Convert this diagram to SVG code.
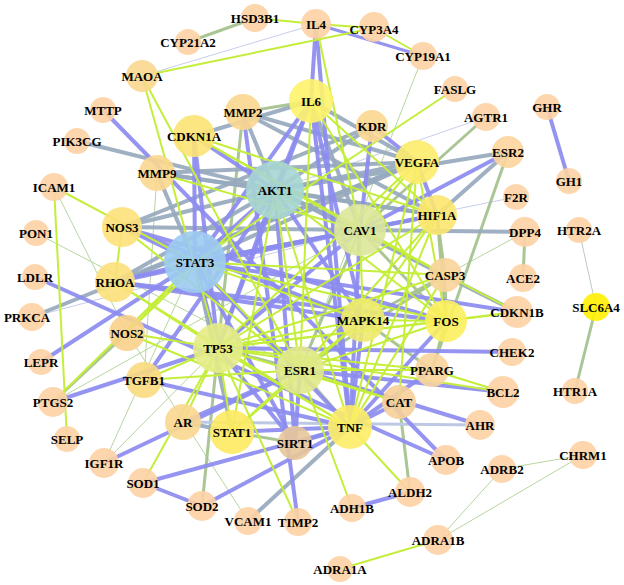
<svg xmlns="http://www.w3.org/2000/svg" width="624" height="585" viewBox="0 0 624 585">
<style>
.b line{stroke:#8C8CF0;stroke-width:4;stroke-opacity:0.92}
.g line{stroke:#97A9BE;stroke-width:4;stroke-opacity:0.92}
.gl line{stroke:#BCC8E4;stroke-width:3}
.s line{stroke:#A6C38F;stroke-width:3;stroke-opacity:0.95}
.l line{stroke:#C4EE3A;stroke-width:2}
.t line{stroke:#C6CFEA;stroke-width:1}
.tg line{stroke:#B6D69E;stroke-width:1}
circle{fill-opacity:0.9}
.p{fill:#FDD1A4}
.o{fill:#FBD78F}
text{font-family:"Liberation Serif","Times New Roman",serif;font-weight:bold;font-size:13px;text-anchor:middle;fill:#000}
</style>
<rect width="624" height="585" fill="#fff"/>
<g id="edges">
<g class="t">
<line x1="142" y1="76" x2="316" y2="24"/>
<line x1="516" y1="197" x2="195" y2="262"/>
<line x1="486" y1="117" x2="275" y2="190"/>
<line x1="32" y1="317" x2="360" y2="230"/>
</g>
<g class="tg">
<line x1="423" y1="56" x2="300" y2="370"/>
<line x1="54" y1="187" x2="127" y2="333"/>
<line x1="36" y1="233" x2="300" y2="370"/>
<line x1="104" y1="463" x2="195" y2="262"/>
<line x1="104" y1="463" x2="218" y2="348"/>
<line x1="248" y1="521" x2="127" y2="333"/>
<line x1="525" y1="232" x2="363" y2="320"/>
<line x1="53" y1="402" x2="360" y2="230"/>
<line x1="157" y1="173" x2="144" y2="380"/>
<line x1="502" y1="469" x2="583" y2="455"/>
<line x1="583" y1="455" x2="438" y2="540"/>
<line x1="502" y1="469" x2="438" y2="540"/>
<line x1="579" y1="230" x2="596" y2="307" style="stroke:#BACAC6"/>
</g>
<g class="s">
<line x1="255" y1="18" x2="188" y2="42"/>
<line x1="53" y1="402" x2="127" y2="333"/>
<line x1="202" y1="506" x2="218" y2="348"/>
<line x1="410" y1="492" x2="399" y2="402"/>
<line x1="523" y1="278" x2="525" y2="232"/>
<line x1="508" y1="152" x2="432" y2="370"/>
<line x1="486" y1="117" x2="360" y2="230"/>
<line x1="243" y1="112" x2="218" y2="348"/>
<line x1="243" y1="112" x2="311" y2="101"/>
<line x1="596" y1="307" x2="575" y2="391"/>
<line x1="275" y1="190" x2="445" y2="275"/>
<line x1="218" y1="348" x2="300" y2="370"/>
<line x1="360" y1="230" x2="300" y2="370"/>
<line x1="360" y1="230" x2="446" y2="321"/>
<line x1="363" y1="320" x2="445" y2="275"/>
<line x1="363" y1="320" x2="432" y2="370"/>
<line x1="300" y1="370" x2="350" y2="427"/>
<line x1="300" y1="370" x2="445" y2="275"/>
<line x1="446" y1="321" x2="437" y2="215"/>
<line x1="446" y1="321" x2="445" y2="275"/>
<line x1="446" y1="321" x2="432" y2="370"/>
<line x1="437" y1="215" x2="445" y2="275"/>
<line x1="232" y1="432" x2="295" y2="443"/>
</g>
<g class="g">
<line x1="77" y1="141" x2="275" y2="190"/>
<line x1="32" y1="317" x2="417" y2="162"/>
<line x1="248" y1="521" x2="350" y2="427"/>
<line x1="517" y1="312" x2="275" y2="190"/>
<line x1="525" y1="232" x2="360" y2="230"/>
<line x1="508" y1="152" x2="275" y2="190"/>
<line x1="508" y1="152" x2="437" y2="215"/>
<line x1="372" y1="126" x2="122" y2="227"/>
<line x1="311" y1="101" x2="417" y2="162"/>
<line x1="243" y1="112" x2="417" y2="162"/>
<line x1="243" y1="112" x2="437" y2="215"/>
<line x1="195" y1="262" x2="417" y2="162"/>
<line x1="195" y1="262" x2="232" y2="432"/>
<line x1="195" y1="262" x2="157" y2="173"/>
<line x1="275" y1="190" x2="360" y2="230"/>
<line x1="275" y1="190" x2="417" y2="162"/>
<line x1="275" y1="190" x2="437" y2="215"/>
<line x1="275" y1="190" x2="122" y2="227"/>
<line x1="275" y1="190" x2="115" y2="282"/>
<line x1="275" y1="190" x2="157" y2="173"/>
<line x1="275" y1="190" x2="243" y2="112"/>
<line x1="275" y1="190" x2="372" y2="126"/>
<line x1="360" y1="230" x2="122" y2="227"/>
<line x1="360" y1="230" x2="311" y2="101"/>
<line x1="311" y1="101" x2="194" y2="136"/>
<line x1="232" y1="432" x2="183" y2="422"/>
<line x1="115" y1="282" x2="417" y2="162"/>
<line x1="157" y1="173" x2="417" y2="162"/>
<line x1="157" y1="173" x2="437" y2="215"/>
</g>
<g class="gl">
<line x1="480" y1="425" x2="183" y2="422"/>
</g>
<g class="b">
<line x1="316" y1="24" x2="423" y2="56" style="stroke-width:3"/>
<line x1="316" y1="24" x2="311" y2="101"/>
<line x1="316" y1="24" x2="350" y2="427"/>
<line x1="103" y1="110" x2="446" y2="460"/>
<line x1="35" y1="277" x2="446" y2="460"/>
<line x1="41" y1="362" x2="195" y2="262"/>
<line x1="53" y1="402" x2="218" y2="348"/>
<line x1="104" y1="463" x2="300" y2="370"/>
<line x1="143" y1="483" x2="350" y2="427"/>
<line x1="143" y1="483" x2="202" y2="506"/>
<line x1="202" y1="506" x2="350" y2="427"/>
<line x1="298" y1="522" x2="243" y2="112"/>
<line x1="352" y1="508" x2="410" y2="492"/>
<line x1="480" y1="425" x2="300" y2="370"/>
<line x1="512" y1="352" x2="218" y2="348"/>
<line x1="517" y1="312" x2="195" y2="262"/>
<line x1="508" y1="152" x2="360" y2="230"/>
<line x1="547" y1="107" x2="569" y2="181"/>
<line x1="372" y1="126" x2="417" y2="162"/>
<line x1="372" y1="126" x2="360" y2="230"/>
<line x1="417" y1="162" x2="437" y2="215"/>
<line x1="194" y1="136" x2="195" y2="262"/>
<line x1="194" y1="136" x2="218" y2="348"/>
<line x1="194" y1="136" x2="275" y2="190"/>
<line x1="300" y1="370" x2="503" y2="392"/>
<line x1="399" y1="402" x2="350" y2="427"/>
<line x1="195" y1="262" x2="275" y2="190"/>
<line x1="195" y1="262" x2="218" y2="348"/>
<line x1="195" y1="262" x2="311" y2="101"/>
<line x1="195" y1="262" x2="360" y2="230"/>
<line x1="195" y1="262" x2="350" y2="427"/>
<line x1="195" y1="262" x2="437" y2="215"/>
<line x1="195" y1="262" x2="122" y2="227"/>
<line x1="195" y1="262" x2="115" y2="282"/>
<line x1="195" y1="262" x2="295" y2="443"/>
<line x1="275" y1="190" x2="311" y2="101"/>
<line x1="275" y1="190" x2="218" y2="348"/>
<line x1="275" y1="190" x2="363" y2="320"/>
<line x1="275" y1="190" x2="295" y2="443"/>
<line x1="275" y1="190" x2="144" y2="380"/>
<line x1="218" y1="348" x2="360" y2="230"/>
<line x1="218" y1="348" x2="311" y2="101"/>
<line x1="218" y1="348" x2="295" y2="443"/>
<line x1="360" y1="230" x2="350" y2="427"/>
<line x1="360" y1="230" x2="437" y2="215"/>
<line x1="360" y1="230" x2="115" y2="282"/>
<line x1="363" y1="320" x2="350" y2="427"/>
<line x1="363" y1="320" x2="311" y2="101"/>
<line x1="363" y1="320" x2="122" y2="227"/>
<line x1="363" y1="320" x2="115" y2="282"/>
<line x1="300" y1="370" x2="183" y2="422"/>
<line x1="300" y1="370" x2="295" y2="443"/>
<line x1="350" y1="427" x2="311" y2="101"/>
<line x1="350" y1="427" x2="446" y2="321"/>
<line x1="350" y1="427" x2="232" y2="432"/>
<line x1="350" y1="427" x2="295" y2="443"/>
<line x1="350" y1="427" x2="144" y2="380"/>
<line x1="350" y1="427" x2="432" y2="370"/>
<line x1="446" y1="321" x2="122" y2="227"/>
<line x1="446" y1="321" x2="115" y2="282"/>
</g>
<g class="l">
<line x1="255" y1="18" x2="316" y2="24"/>
<line x1="316" y1="24" x2="374" y2="28"/>
<line x1="142" y1="76" x2="374" y2="28"/>
<line x1="374" y1="28" x2="423" y2="56"/>
<line x1="316" y1="24" x2="360" y2="230"/>
<line x1="142" y1="76" x2="300" y2="370"/>
<line x1="142" y1="76" x2="218" y2="348"/>
<line x1="54" y1="187" x2="67" y2="439"/>
<line x1="54" y1="187" x2="195" y2="262"/>
<line x1="53" y1="402" x2="195" y2="262"/>
<line x1="143" y1="483" x2="218" y2="348"/>
<line x1="298" y1="522" x2="218" y2="348"/>
<line x1="352" y1="508" x2="300" y2="370"/>
<line x1="410" y1="492" x2="350" y2="427"/>
<line x1="517" y1="312" x2="360" y2="230"/>
<line x1="517" y1="312" x2="446" y2="321"/>
<line x1="517" y1="312" x2="218" y2="348"/>
<line x1="455" y1="89" x2="195" y2="262"/>
<line x1="417" y1="162" x2="399" y2="402"/>
<line x1="194" y1="136" x2="437" y2="215"/>
<line x1="194" y1="136" x2="445" y2="275"/>
<line x1="432" y1="370" x2="503" y2="392"/>
<line x1="218" y1="348" x2="503" y2="392"/>
<line x1="438" y1="540" x2="340" y2="569"/>
<line x1="195" y1="262" x2="363" y2="320"/>
<line x1="195" y1="262" x2="300" y2="370"/>
<line x1="195" y1="262" x2="446" y2="321"/>
<line x1="195" y1="262" x2="445" y2="275"/>
<line x1="195" y1="262" x2="127" y2="333"/>
<line x1="275" y1="190" x2="300" y2="370"/>
<line x1="275" y1="190" x2="350" y2="427"/>
<line x1="275" y1="190" x2="446" y2="321"/>
<line x1="275" y1="190" x2="232" y2="432"/>
<line x1="275" y1="190" x2="127" y2="333"/>
<line x1="218" y1="348" x2="363" y2="320"/>
<line x1="218" y1="348" x2="350" y2="427"/>
<line x1="218" y1="348" x2="446" y2="321"/>
<line x1="218" y1="348" x2="445" y2="275"/>
<line x1="218" y1="348" x2="437" y2="215"/>
<line x1="218" y1="348" x2="232" y2="432"/>
<line x1="218" y1="348" x2="115" y2="282"/>
<line x1="218" y1="348" x2="127" y2="333"/>
<line x1="218" y1="348" x2="144" y2="380"/>
<line x1="218" y1="348" x2="183" y2="422"/>
<line x1="218" y1="348" x2="417" y2="162"/>
<line x1="218" y1="348" x2="432" y2="370"/>
<line x1="218" y1="348" x2="399" y2="402"/>
<line x1="360" y1="230" x2="363" y2="320"/>
<line x1="360" y1="230" x2="417" y2="162"/>
<line x1="360" y1="230" x2="445" y2="275"/>
<line x1="360" y1="230" x2="157" y2="173"/>
<line x1="360" y1="230" x2="194" y2="136"/>
<line x1="363" y1="320" x2="300" y2="370"/>
<line x1="363" y1="320" x2="446" y2="321"/>
<line x1="363" y1="320" x2="437" y2="215"/>
<line x1="363" y1="320" x2="232" y2="432"/>
<line x1="300" y1="370" x2="446" y2="321"/>
<line x1="300" y1="370" x2="311" y2="101"/>
<line x1="300" y1="370" x2="232" y2="432"/>
<line x1="300" y1="370" x2="144" y2="380"/>
<line x1="300" y1="370" x2="122" y2="227"/>
<line x1="300" y1="370" x2="437" y2="215"/>
<line x1="300" y1="370" x2="432" y2="370"/>
<line x1="300" y1="370" x2="399" y2="402"/>
<line x1="350" y1="427" x2="445" y2="275"/>
<line x1="350" y1="427" x2="115" y2="282"/>
<line x1="350" y1="427" x2="127" y2="333"/>
<line x1="350" y1="427" x2="437" y2="215"/>
<line x1="350" y1="427" x2="417" y2="162"/>
<line x1="311" y1="101" x2="437" y2="215"/>
<line x1="311" y1="101" x2="446" y2="321"/>
<line x1="417" y1="162" x2="446" y2="321"/>
<line x1="122" y1="227" x2="115" y2="282"/>
</g>
</g>
<g id="nodes">
<g id="n-HSD3B1"><circle cx="255" cy="18" r="14" class="p"/><text x="255" y="22.5">HSD3B1</text></g>
<g id="n-IL4"><circle cx="316" cy="24" r="15" class="p"/><text x="316" y="28.5">IL4</text></g>
<g id="n-CYP21A2"><circle cx="188" cy="42" r="13" class="p"/><text x="188" y="46.5">CYP21A2</text></g>
<g id="n-CYP3A4"><circle cx="374" cy="27" r="15" class="p"/><text x="374" y="33.5">CYP3A4</text></g>
<g id="n-CYP19A1"><circle cx="423" cy="56" r="14" class="p"/><text x="423" y="60.5">CYP19A1</text></g>
<g id="n-MAOA"><circle cx="142" cy="76" r="16" class="o"/><text x="142" y="80.5">MAOA</text></g>
<g id="n-IL6"><circle cx="311" cy="101" r="22" fill="#FDF36A"/><text x="311" y="105.5">IL6</text></g>
<g id="n-FASLG"><circle cx="455" cy="89" r="13" class="p"/><text x="455" y="93.5">FASLG</text></g>
<g id="n-MTTP"><circle cx="103" cy="110" r="13" class="p"/><text x="103" y="114.5">MTTP</text></g>
<g id="n-MMP2"><circle cx="243" cy="112" r="18" class="o"/><text x="243" y="116.5">MMP2</text></g>
<g id="n-KDR"><circle cx="372" cy="126" r="16" class="o"/><text x="372" y="130.5">KDR</text></g>
<g id="n-AGTR1"><circle cx="486" cy="117" r="14" class="p"/><text x="486" y="121.5">AGTR1</text></g>
<g id="n-GHR"><circle cx="547" cy="107" r="13" class="p"/><text x="547" y="111.5">GHR</text></g>
<g id="n-PIK3CG"><circle cx="77" cy="141" r="13" class="p"/><text x="77" y="145.5">PIK3CG</text></g>
<g id="n-CDKN1A"><circle cx="194" cy="136" r="21" fill="#FCE373"/><text x="194" y="140.5">CDKN1A</text></g>
<g id="n-ESR2"><circle cx="508" cy="152" r="16" fill="#FCD59C"/><text x="508" y="156.5">ESR2</text></g>
<g id="n-VEGFA"><circle cx="417" cy="162" r="22" fill="#FDEC6C"/><text x="417" y="166.5">VEGFA</text></g>
<g id="n-GH1"><circle cx="569" cy="181" r="13" class="p"/><text x="569" y="185.5">GH1</text></g>
<g id="n-AKT1"><circle cx="275" cy="190" r="29" fill="#A6D5D2"/><text x="275" y="194.5">AKT1</text></g>
<g id="n-MMP9"><circle cx="157" cy="173" r="18" class="o"/><text x="157" y="177.5">MMP9</text></g>
<g id="n-ICAM1"><circle cx="54" cy="187" r="14" class="p"/><text x="54" y="191.5">ICAM1</text></g>
<g id="n-NOS3"><circle cx="122" cy="227" r="20" fill="#FCE17A"/><text x="122" y="231.5">NOS3</text></g>
<g id="n-PON1"><circle cx="36" cy="233" r="13" class="p"/><text x="36" y="237.5">PON1</text></g>
<g id="n-F2R"><circle cx="516" cy="197" r="13" class="p"/><text x="516" y="201.5">F2R</text></g>
<g id="n-HIF1A"><circle cx="437" cy="215" r="20" fill="#FCE56E"/><text x="437" y="219.5">HIF1A</text></g>
<g id="n-CAV1"><circle cx="360" cy="230" r="26" fill="#DCE79A"/><text x="360" y="234.5">CAV1</text></g>
<g id="n-DPP4"><circle cx="525" cy="232" r="15" class="p"/><text x="525" y="236.5">DPP4</text></g>
<g id="n-HTR2A"><circle cx="579" cy="230" r="13" class="p"/><text x="579" y="234.5">HTR2A</text></g>
<g id="n-STAT3"><circle cx="195" cy="262" r="31" fill="#9CCBF0"/><text x="195" y="266.5">STAT3</text></g>
<g id="n-RHOA"><circle cx="115" cy="282" r="20" fill="#FCE07A"/><text x="115" y="286.5">RHOA</text></g>
<g id="n-LDLR"><circle cx="35" cy="277" r="13" class="p"/><text x="35" y="281.5">LDLR</text></g>
<g id="n-CASP3"><circle cx="445" cy="275" r="17" fill="#FAD49A"/><text x="445" y="279.5">CASP3</text></g>
<g id="n-ACE2"><circle cx="523" cy="278" r="14" class="p"/><text x="523" y="282.5">ACE2</text></g>
<g id="n-SLC6A4"><circle cx="596" cy="307" r="14" fill="#FFF000"/><text x="596" y="311.5">SLC6A4</text></g>
<g id="n-PRKCA"><circle cx="32" cy="317" r="14" class="p"/><text x="27" y="321.5">PRKCA</text></g>
<g id="n-CDKN1B"><circle cx="517" cy="312" r="16" class="p"/><text x="517" y="316.5">CDKN1B</text></g>
<g id="n-MAPK14"><circle cx="363" cy="320" r="22" fill="#EEEA6E"/><text x="363" y="324.5">MAPK14</text></g>
<g id="n-FOS"><circle cx="446" cy="321" r="21" fill="#FCF05C"/><text x="446" y="325.5">FOS</text></g>
<g id="n-NOS2"><circle cx="127" cy="333" r="18" fill="#F8D28A"/><text x="127" y="337.5">NOS2</text></g>
<g id="n-TP53"><circle cx="218" cy="348" r="25" fill="#E4EC86"/><text x="218" y="352.5">TP53</text></g>
<g id="n-LEPR"><circle cx="41" cy="362" r="13" class="p"/><text x="41" y="366.5">LEPR</text></g>
<g id="n-CHEK2"><circle cx="512" cy="352" r="14" class="p"/><text x="512" y="356.5">CHEK2</text></g>
<g id="n-ESR1"><circle cx="300" cy="370" r="24" fill="#E1E98A"/><text x="300" y="374.5">ESR1</text></g>
<g id="n-PPARG"><circle cx="432" cy="370" r="17" fill="#FAD49C"/><text x="432" y="374.5">PPARG</text></g>
<g id="n-TGFB1"><circle cx="144" cy="380" r="18" fill="#FBDA80"/><text x="144" y="384.5">TGFB1</text></g>
<g id="n-PTGS2"><circle cx="53" cy="402" r="15" class="p"/><text x="53" y="406.5">PTGS2</text></g>
<g id="n-BCL2"><circle cx="503" cy="392" r="16" class="p"/><text x="503" y="396.5">BCL2</text></g>
<g id="n-HTR1A"><circle cx="575" cy="391" r="13" class="p"/><text x="575" y="395.5">HTR1A</text></g>
<g id="n-CAT"><circle cx="399" cy="402" r="17" fill="#F6CF98"/><text x="399" y="406.5">CAT</text></g>
<g id="n-AR"><circle cx="183" cy="422" r="18" class="o"/><text x="183" y="426.5">AR</text></g>
<g id="n-STAT1"><circle cx="232" cy="432" r="22" fill="#FDEA60"/><text x="232" y="436.5">STAT1</text></g>
<g id="n-TNF"><circle cx="350" cy="427" r="22" fill="#FDED66"/><text x="350" y="431.5">TNF</text></g>
<g id="n-SIRT1"><circle cx="295" cy="443" r="17" fill="#E8C69A"/><text x="295" y="447.5">SIRT1</text></g>
<g id="n-SELP"><circle cx="67" cy="439" r="13" class="p"/><text x="67" y="443.5">SELP</text></g>
<g id="n-AHR"><circle cx="480" cy="425" r="15" class="p"/><text x="480" y="429.5">AHR</text></g>
<g id="n-IGF1R"><circle cx="104" cy="463" r="15" class="p"/><text x="104" y="467.5">IGF1R</text></g>
<g id="n-APOB"><circle cx="446" cy="460" r="15" class="p"/><text x="446" y="464.5">APOB</text></g>
<g id="n-ADRB2"><circle cx="502" cy="469" r="14" class="p"/><text x="502" y="473.5">ADRB2</text></g>
<g id="n-CHRM1"><circle cx="583" cy="455" r="14" class="p"/><text x="583" y="459.5">CHRM1</text></g>
<g id="n-SOD1"><circle cx="143" cy="483" r="15" class="p"/><text x="143" y="487.5">SOD1</text></g>
<g id="n-ALDH2"><circle cx="410" cy="492" r="15" class="p"/><text x="410" y="496.5">ALDH2</text></g>
<g id="n-ADH1B"><circle cx="352" cy="508" r="14" class="p"/><text x="352" y="512.5">ADH1B</text></g>
<g id="n-SOD2"><circle cx="202" cy="506" r="15" class="p"/><text x="202" y="510.5">SOD2</text></g>
<g id="n-VCAM1"><circle cx="248" cy="521" r="14" class="p"/><text x="248" y="525.5">VCAM1</text></g>
<g id="n-TIMP2"><circle cx="298" cy="522" r="14" class="p"/><text x="298" y="526.5">TIMP2</text></g>
<g id="n-ADRA1B"><circle cx="438" cy="540" r="15" class="p"/><text x="438" y="544.5">ADRA1B</text></g>
<g id="n-ADRA1A"><circle cx="340" cy="569" r="13" class="p"/><text x="340" y="573.5">ADRA1A</text></g>
</g>
</svg>
